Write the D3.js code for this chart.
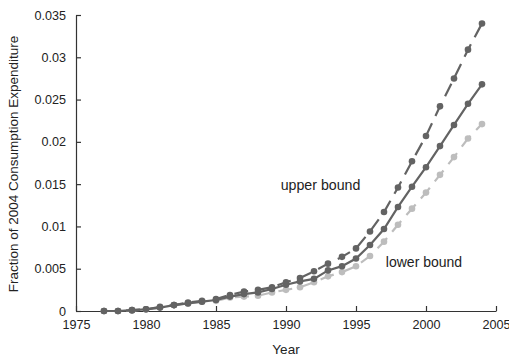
<!DOCTYPE html>
<html>
<head>
<meta charset="utf-8">
<script src="https://cdn.jsdelivr.net/npm/d3@7"></script>
<style>
  html, body { margin: 0; padding: 0; background: #fff; }
  svg { display: block; }
  text { font-family: "Liberation Sans", Arial, Helvetica, sans-serif; fill: #222; }
</style>
</head>
<body>
<svg id="chart" width="509" height="356"></svg>
<script>
// Years covered by the estimates
const years = [1977, 1978, 1979, 1980, 1981, 1982, 1983, 1984, 1985, 1986,
               1987, 1988, 1989, 1990, 1991, 1992, 1993, 1994, 1995, 1996,
               1997, 1998, 1999, 2000, 2001, 2002, 2003, 2004];

// Central estimate (solid line)
const central = [0.0000, 0.0000, 0.0001, 0.0002, 0.0004, 0.0007, 0.0009, 0.0011, 0.0013, 0.0017,
                 0.0020, 0.0022, 0.0026, 0.0031, 0.0035, 0.0038, 0.0048, 0.0053, 0.0062, 0.0078,
                 0.0097, 0.0123, 0.0147, 0.0170, 0.0195, 0.0220, 0.0245, 0.0268];

// Upper bound (dark dashed line)
const upper = [0.0000, 0.0000, 0.0001, 0.0002, 0.0005, 0.0007, 0.0010, 0.0012, 0.0014, 0.0019,
               0.0023, 0.0025, 0.0028, 0.0034, 0.0039, 0.0047, 0.0056, 0.0064, 0.0074, 0.0094,
               0.0117, 0.0146, 0.0177, 0.0207, 0.0242, 0.0275, 0.0309, 0.0340];

// Lower bound (light dashed line)
const lower = [0.0000, 0.0000, 0.00005, 0.0002, 0.0004, 0.0007, 0.0009, 0.0011, 0.0012, 0.0016,
               0.0017, 0.0018, 0.0022, 0.0025, 0.0028, 0.0034, 0.0041, 0.0046, 0.0053, 0.0065,
               0.0082, 0.0102, 0.0121, 0.0140, 0.0161, 0.0182, 0.0204, 0.0221];

const xTicks = [1975, 1980, 1985, 1990, 1995, 2000, 2005];
const yTicks = [0, 0.005, 0.01, 0.015, 0.02, 0.025, 0.03, 0.035];
const yTickLabels = ["0", "0.005", "0.01", "0.015", "0.02", "0.025", "0.03", "0.035"];

const svg = d3.select("#chart");
const plotLeft = 76, plotRight = 496, plotTop = 15, plotBottom = 311;

const x = d3.scaleLinear().domain([1975, 2005]).range([plotLeft, plotRight]);
const y = d3.scaleLinear().domain([0, 0.035]).range([plotBottom, plotTop]);

const DARK = "#636363", LIGHT = "#bdbdbd", AXIS = "#333";

// Axes with inward ticks
const xAxis = d3.axisBottom(x).tickValues(xTicks).tickFormat(d3.format("d"))
  .tickSizeInner(-5).tickSizeOuter(0).tickPadding(9);
const yAxis = d3.axisLeft(y).tickValues(yTicks).tickFormat((d, i) => yTickLabels[i])
  .tickSizeInner(-5).tickSizeOuter(0).tickPadding(10);

const gx = svg.append("g").attr("transform", `translate(0,${plotBottom})`).call(xAxis);
const gy = svg.append("g").attr("transform", `translate(${plotLeft},0)`).call(yAxis);
[gx, gy].forEach(g => {
  g.select(".domain").attr("stroke", AXIS).attr("stroke-width", 1.2);
  g.selectAll(".tick line").attr("stroke", AXIS).attr("stroke-width", 1.2);
  g.selectAll(".tick text").style("font-size", "12.6px")
    .style("font-family", "'Liberation Sans', Arial, sans-serif").attr("fill", "#222");
});

// Axis titles
svg.append("text").attr("x", (plotLeft + plotRight) / 2).attr("y", 354)
  .attr("text-anchor", "middle").style("font-size", "13.5px").text("Year");
svg.append("text")
  .attr("transform", `translate(18,${(plotTop + plotBottom) / 2 + 1}) rotate(-90)`)
  .attr("text-anchor", "middle").style("font-size", "13.5px")
  .text("Fraction of 2004 Consumption Expenditure");

const line = d3.line().x(d => x(d[0])).y(d => y(d[1]));

const series = [
  { name: "lower", values: lower, color: LIGHT, dash: "14,8" },
  { name: "upper", values: upper, color: DARK, dash: "14,8" },
  { name: "central", values: central, color: DARK, dash: null }
];

series.forEach(s => {
  const pts = years.map((yr, i) => [yr, s.values[i]]);
  const g = svg.append("g").attr("class", "series-" + s.name);
  g.append("path").datum(pts).attr("d", line)
    .attr("fill", "none").attr("stroke", s.color).attr("stroke-width", 2.2)
    .attr("stroke-dasharray", s.dash);
  g.selectAll("circle").data(pts).join("circle")
    .attr("cx", d => x(d[0])).attr("cy", d => y(d[1])).attr("r", 3.3)
    .attr("fill", s.color);
});

// Series labels
svg.append("text").attr("x", 320.5).attr("y", 190).attr("text-anchor", "middle")
  .style("font-size", "14.2px").text("upper bound");
svg.append("text").attr("x", 424).attr("y", 267).attr("text-anchor", "middle")
  .style("font-size", "14px").text("lower bound");
</script>
</body>
</html>
